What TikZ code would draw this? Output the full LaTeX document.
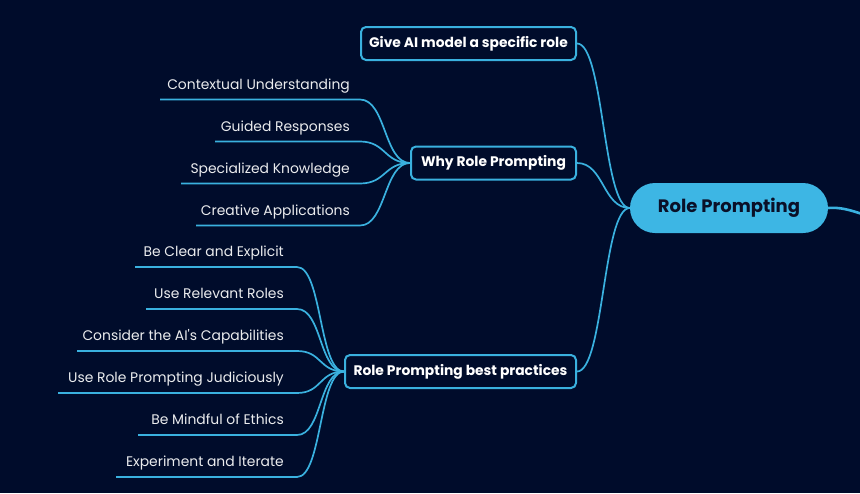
\documentclass[tikz,border=0pt]{standalone}
\usepackage{fontspec}
\setmainfont{Poppins}
\definecolor{bg}{HTML}{000C2B}
\definecolor{ln}{HTML}{3AB1DF}
\definecolor{cfill}{HTML}{3DB6E4}
\definecolor{ctext}{HTML}{0A1028}
\tikzset{
  conn/.style={draw=ln, line width=1.7pt},
  leaf/.style={anchor=base east, inner sep=0pt, text=white!92!bg, font=\fontsize{13.9}{16}\selectfont},
  topic/.style={draw=ln, line width=2pt, rounded corners=5pt, anchor=east, minimum height=33pt, inner sep=0pt, text=white, font=\bfseries\fontsize{13.85}{16}\selectfont},
  central/.style={fill=cfill, rounded corners=25pt, minimum width=198pt, minimum height=50pt, inner sep=0pt, text=ctext, font=\bfseries\fontsize{18}{21}\selectfont},
}
\begin{document}
\begin{tikzpicture}[x=1pt,y=-1pt]
\fill[bg] (0,0) rectangle (860,493);
\useasboundingbox (0,0) rectangle (860,493);

\node[central] (rp) at (729,208) {Role Prompting};
\coordinate (off) at (862,214);
\draw[ln, line width=2.6pt] (rp.east) .. controls (840,207) and (850,210) .. (off);

\node[topic, minimum width=215pt] (give) at (577,43.5) {Give AI model a specific role};
\node[topic, minimum width=165pt] (why) at (577,163) {Why Role Prompting};
\node[topic, minimum width=231pt] (best) at (577,371.5) {Role Prompting best practices};

\foreach \n in {give,why,best}{
  \draw[conn] (\n.east) .. controls +(27,0) and +(-27,0) .. (rp.west);
}

% Why leaves
\foreach \t/\y/\x [count=\i] in {Contextual Understanding/99.5/160, Guided Responses/141.5/215, Specialized Knowledge/183.5/181, Creative Applications/225.5/196}{
  \node[leaf] (w\i) at (350,\y-10.5) {\t};
  \coordinate (wl\i) at (\x,\y);
  \coordinate (wr\i) at (360,\y);
  \draw[conn] (wl\i) -- (wr\i) .. controls +(26,0) and +(-26,0) .. (why.west);
}

% Best practices leaves
\foreach \t/\y/\x [count=\i] in {Be Clear and Explicit/267/135, Use Relevant Roles/309/146, Consider the AI\textquotesingle s Capabilities/351/77, Use Role Prompting Judiciously/393/58, Be Mindful of Ethics/435/138, Experiment and Iterate/477/116}{
  \node[leaf] (b\i) at (284,\y-11) {\t};
  \coordinate (bl\i) at (\x,\y);
  \coordinate (br\i) at (297,\y);
  \draw[conn] (bl\i) -- (br\i) .. controls +(25,0) and +(-25,0) .. (best.west);
}
\end{tikzpicture}
\end{document}
